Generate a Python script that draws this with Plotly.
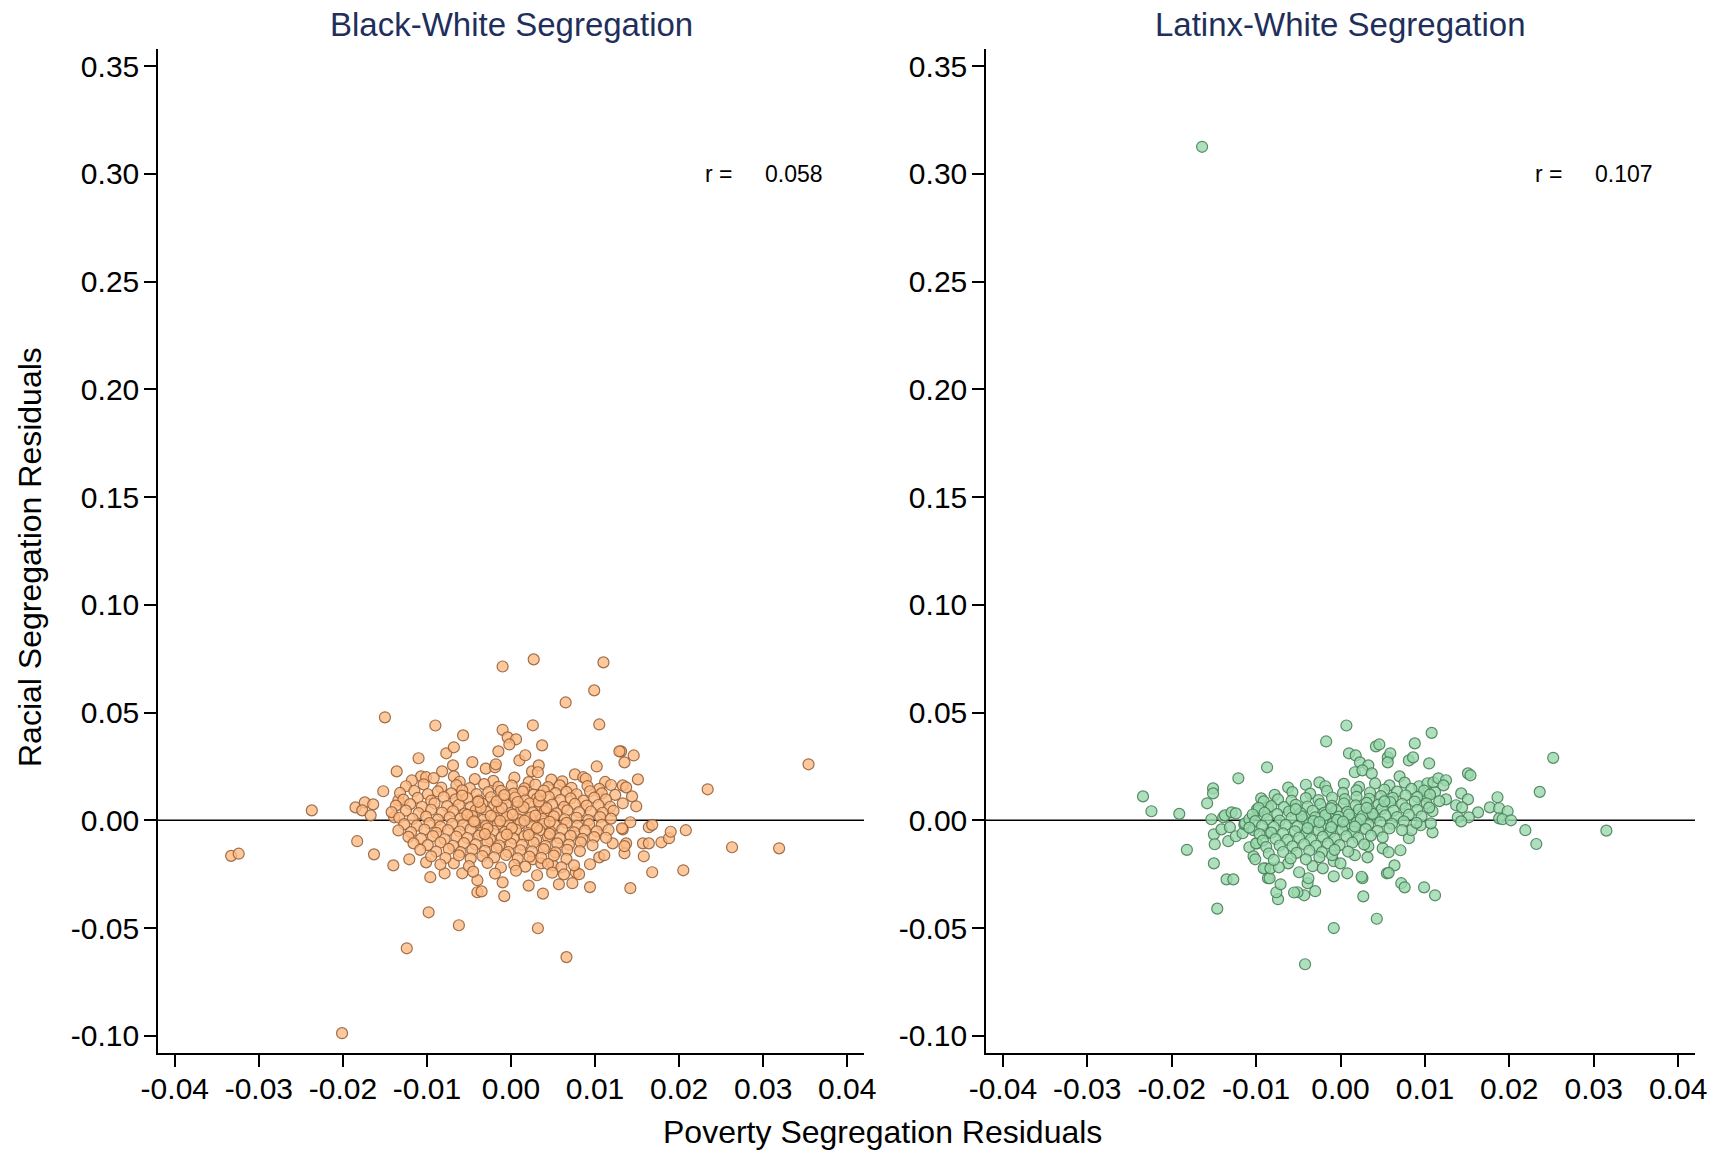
import plotly.graph_objects as go

# ---------------- data ----------------
panel_titles = ["Black-White Segregation", "Latinx-White Segregation"]
r_values = ["0.058", "0.107"]
x_tick_vals = [-0.04, -0.03, -0.02, -0.01, 0.00, 0.01, 0.02, 0.03, 0.04]
x_tick_text = ["-0.04", "-0.03", "-0.02", "-0.01", "0.00", "0.01", "0.02", "0.03", "0.04"]
y_tick_vals = [-0.10, -0.05, 0.00, 0.05, 0.10, 0.15, 0.20, 0.25, 0.30, 0.35]
y_tick_text = ["-0.10", "-0.05", "0.00", "0.05", "0.10", "0.15", "0.20", "0.25", "0.30", "0.35"]

# Black-White panel: (poverty residual, racial residual)
bw_points = [
    (-0.0333,-0.0165),(-0.0324,-0.0155),(-0.0237,0.0046),(-0.0201,-0.0988),(-0.0150,0.0478),(-0.0183,-0.0097),
    (-0.0124,-0.0594),(-0.0098,-0.0427),(-0.0062,-0.0487),(0.0032,-0.0501),(0.0066,-0.0635),(-0.0008,-0.0352),
    (0.0021,-0.0303),(0.0038,-0.0340),(0.0057,-0.0297),(0.0073,-0.0292),(0.0094,-0.0310),(0.0142,-0.0315),
    (-0.0040,-0.0334),(-0.0035,-0.0330),
    (-0.0010,0.0714),(0.0027,0.0747),(0.0110,0.0733),(0.0099,0.0603),(0.0065,0.0547),(-0.0010,0.0420),
    (0.0026,0.0441),(0.0105,0.0445),(-0.0004,0.0385),(0.0006,0.0376),(-0.0002,0.0352),
    (0.0354,0.0260),(0.0234,0.0144),(0.0263,-0.0125),(0.0319,-0.0130),(0.0208,-0.0046),(0.0205,-0.0232),
    (0.0168,-0.0241),(0.0179,-0.0102),(0.0188,-0.0083),(0.0190,-0.0053),(0.0164,-0.0032),(0.0168,-0.0021),
    (0.0157,-0.0107),(0.0164,-0.0107),(0.0158,-0.0167),(0.0146,0.0301),(0.0151,0.0190),(0.0144,0.0111),
    (0.0149,0.0065),(0.0133,0.0162),(0.0137,0.0153),(0.0133,0.0079),(0.0142,-0.0009),(0.0133,-0.0042),
    (0.0137,-0.0107),(0.0135,-0.0153),(0.0135,0.0269),(0.0131,0.0320),
    (-0.0090,0.0440),(-0.0057,0.0394),(0.0037,0.0348),(-0.0015,0.0320),(-0.0077,0.0311),(-0.0068,0.0339),
    (-0.0110,0.0288),(-0.0046,0.0270),(-0.0069,0.0255),(-0.0082,0.0227),(-0.0136,0.0227),(-0.0107,0.0204),
    (-0.0101,0.0200),(-0.0068,0.0204),(-0.0030,0.0240),(-0.0019,0.0246),(-0.0018,0.0260),(0.0010,0.0278),
    (0.0017,0.0302),(0.0025,0.0227),(0.0033,0.0255),(0.0032,0.0223),(0.0076,0.0213),(0.0086,0.0200),
    (0.0102,0.0250),(0.0129,0.0320),
    (-0.0152,0.0135),(-0.0134,0.0093),(-0.0185,0.0060),(-0.0174,0.0083),(-0.0177,0.0046),(-0.0164,0.0074),
    (-0.0167,0.0023),(-0.0139,0.0014),(-0.0163,-0.0158),(-0.0140,-0.0209),(-0.0101,-0.0195),(-0.0096,-0.0264),
    (-0.0121,-0.0181),(-0.0079,-0.0246),(-0.0068,-0.0200),(-0.0058,-0.0246),(-0.0040,-0.0278),(-0.0010,-0.0288),
    (0.0031,-0.0255),(0.0077,-0.0241),(0.0081,-0.0250),(0.0094,-0.0204),(0.0105,-0.0172),(0.0111,-0.0162),
    (0.0121,-0.0107),(0.0135,-0.0120),(0.0132,-0.0037),(0.0050,-0.0209),(0.0026,-0.0181),(0.0036,-0.0200),
    # dense core
    (-0.0118,0.0185),(-0.0092,0.0196),(-0.0061,0.0179),(-0.0043,0.0191),(-0.0021,0.0183),(0.0004,0.0198),
    (0.0021,0.0177),(0.0048,0.0189),(0.0061,0.0181),(0.0089,0.0193),(0.0112,0.0178),
    (-0.0125,0.0158),(-0.0104,0.0167),(-0.0083,0.0152),(-0.0065,0.0163),(-0.0049,0.0149),(-0.0032,0.0168),
    (-0.0015,0.0155),(0.0001,0.0161),(0.0016,0.0148),(0.0029,0.0166),(0.0044,0.0154),(0.0058,0.0162),
    (0.0072,0.0151),(0.0091,0.0159),(0.0105,0.0146),(0.0119,0.0164),
    (-0.0132,0.0127),(-0.0115,0.0136),(-0.0099,0.0121),(-0.0087,0.0134),(-0.0071,0.0125),(-0.0058,0.0139),
    (-0.0041,0.0122),(-0.0027,0.0131),(-0.0012,0.0137),(0.0003,0.0124),(0.0014,0.0133),(0.0027,0.0119),
    (0.0039,0.0138),(0.0053,0.0126),(0.0066,0.0132),(0.0078,0.0121),(0.0094,0.0135),(0.0108,0.0125),(0.0124,0.0118),
    (-0.0128,0.0096),(-0.0111,0.0104),(-0.0095,0.0091),(-0.0080,0.0108),(-0.0066,0.0097),(-0.0052,0.0103),
    (-0.0038,0.0092),(-0.0024,0.0107),(-0.0009,0.0099),(0.0005,0.0106),(0.0017,0.0093),(0.0031,0.0101),
    (0.0045,0.0109),(0.0059,0.0095),(0.0071,0.0102),(0.0086,0.0091),(0.0099,0.0105),(0.0113,0.0097),
    (-0.0137,0.0068),(-0.0120,0.0075),(-0.0106,0.0063),(-0.0091,0.0079),(-0.0076,0.0066),(-0.0062,0.0072),
    (-0.0048,0.0061),(-0.0034,0.0077),(-0.0020,0.0069),(-0.0006,0.0074),(0.0008,0.0064),(0.0022,0.0078),
    (0.0035,0.0067),(0.0049,0.0073),(0.0063,0.0062),(0.0076,0.0076),(0.0090,0.0068),(0.0104,0.0071),(0.0118,0.0063),
    (-0.0142,0.0038),(-0.0125,0.0045),(-0.0110,0.0033),(-0.0095,0.0049),(-0.0082,0.0036),(-0.0069,0.0043),
    (-0.0055,0.0031),(-0.0042,0.0047),(-0.0029,0.0039),(-0.0015,0.0044),(-0.0001,0.0034),(0.0012,0.0048),
    (0.0026,0.0037),(0.0040,0.0042),(0.0054,0.0032),(0.0067,0.0046),(0.0081,0.0038),(0.0095,0.0041),
    (0.0109,0.0035),(0.0122,0.0044),
    (-0.0133,0.0012),(-0.0117,0.0006),(-0.0101,0.0017),(-0.0087,0.0003),(-0.0073,0.0014),(-0.0060,0.0008),
    (-0.0046,0.0019),(-0.0033,0.0002),(-0.0019,0.0011),(-0.0005,0.0016),(0.0009,0.0004),(0.0023,0.0013),
    (0.0037,0.0007),(0.0051,0.0018),(0.0064,0.0005),(0.0078,0.0012),(0.0092,0.0001),(0.0106,0.0015),(0.0119,0.0008),
    (-0.0127,-0.0018),(-0.0112,-0.0025),(-0.0097,-0.0013),(-0.0084,-0.0029),(-0.0070,-0.0016),(-0.0057,-0.0022),
    (-0.0043,-0.0011),(-0.0030,-0.0027),(-0.0016,-0.0019),(-0.0002,-0.0024),(0.0011,-0.0014),(0.0025,-0.0028),
    (0.0039,-0.0017),(0.0052,-0.0023),(0.0066,-0.0012),(0.0079,-0.0026),(0.0093,-0.0018),(0.0108,-0.0021),
    (-0.0134,-0.0047),(-0.0119,-0.0055),(-0.0103,-0.0043),(-0.0089,-0.0058),(-0.0075,-0.0046),(-0.0061,-0.0052),
    (-0.0048,-0.0041),(-0.0035,-0.0057),(-0.0021,-0.0049),(-0.0007,-0.0054),(0.0006,-0.0044),(0.0020,-0.0059),
    (0.0034,-0.0047),(0.0047,-0.0053),(0.0061,-0.0042),(0.0075,-0.0056),(0.0088,-0.0048),(0.0102,-0.0051),(0.0116,-0.0045),
    (-0.0122,-0.0077),(-0.0107,-0.0085),(-0.0093,-0.0073),(-0.0079,-0.0088),(-0.0065,-0.0076),(-0.0052,-0.0082),
    (-0.0038,-0.0071),(-0.0025,-0.0087),(-0.0011,-0.0079),(0.0003,-0.0084),(0.0016,-0.0074),(0.0030,-0.0089),
    (0.0044,-0.0077),(0.0058,-0.0083),(0.0071,-0.0072),(0.0085,-0.0086),(0.0099,-0.0078),(0.0113,-0.0081),
    (-0.0116,-0.0107),(-0.0099,-0.0115),(-0.0084,-0.0103),(-0.0069,-0.0118),(-0.0056,-0.0106),(-0.0042,-0.0112),
    (-0.0028,-0.0101),(-0.0014,-0.0117),(0.0000,-0.0109),(0.0013,-0.0114),(0.0027,-0.0104),(0.0041,-0.0119),
    (0.0055,-0.0107),(0.0069,-0.0113),(0.0083,-0.0102),(0.0097,-0.0116),
    (-0.0108,-0.0137),(-0.0089,-0.0145),(-0.0074,-0.0133),(-0.0060,-0.0148),(-0.0046,-0.0136),(-0.0031,-0.0142),
    (-0.0017,-0.0131),(-0.0003,-0.0147),(0.0011,-0.0139),(0.0025,-0.0144),(0.0039,-0.0134),(0.0053,-0.0149),
    (0.0067,-0.0137),(0.0082,-0.0143),
    (-0.0095,-0.0167),(-0.0078,-0.0175),(-0.0062,-0.0163),(-0.0048,-0.0178),(-0.0034,-0.0166),(-0.0020,-0.0172),
    (-0.0006,-0.0161),(0.0008,-0.0177),(0.0022,-0.0169),(0.0036,-0.0174),(0.0051,-0.0164),(0.0066,-0.0179),
    (-0.0084,-0.0205),(-0.0050,-0.0213),(-0.0028,-0.0198),(-0.0012,-0.0219),(0.0004,-0.0207),(0.0017,-0.0215),
    (0.0044,-0.0203),(0.0060,-0.0218),(0.0075,-0.0209),
    (-0.0045,-0.0238),(-0.0019,-0.0247),(0.0006,-0.0234),(0.0049,-0.0243),(0.0063,-0.0251),
    (-0.0052,0.0025),(-0.0036,0.0058),(-0.0024,0.0021),(-0.0011,0.0057),(0.0002,0.0026),(0.0015,0.0061),
    (0.0029,0.0022),(0.0042,0.0057),(-0.0044,-0.0005),(-0.0028,-0.0038),(-0.0013,-0.0003),(0.0001,-0.0036),
    (0.0016,-0.0002),(0.0031,-0.0035),(0.0046,-0.0007),(-0.0039,0.0086),(-0.0017,0.0088),(0.0008,0.0085),
    (0.0033,0.0087),(-0.0031,-0.0064),(-0.0005,-0.0066),(0.0021,-0.0068),(0.0046,-0.0063),(-0.0058,0.0115),
    (0.0035,0.0115),(-0.0008,0.0117),
]

# Latinx-White panel: (poverty residual, racial residual)
lw_points = [
    (-0.0164,0.3126),(0.0315,-0.0048),(0.0252,0.0290),(-0.0042,-0.0668),(-0.0008,-0.0500),(0.0043,-0.0457),
    (0.0007,0.0440),(0.0108,0.0406),(0.0236,0.0132),(0.0232,-0.0110),(0.0219,-0.0046),
    (-0.0234,0.0111),(-0.0224,0.0042),(-0.0191,0.0030),(-0.0182,-0.0137),(-0.0158,0.0079),(-0.0151,0.0148),
    (-0.0151,0.0125),(-0.0121,0.0195),(-0.0153,0.0005),(-0.0150,-0.0065),(-0.0149,-0.0111),(-0.0150,-0.0200),
    (-0.0146,-0.0410),(-0.0135,-0.0274),(-0.0127,-0.0274),(-0.0139,0.0014),(-0.0137,0.0023),(-0.0129,0.0037),
    (-0.0124,0.0032),(-0.0141,-0.0042),(-0.0131,-0.0032),(-0.0133,-0.0097),(-0.0124,-0.0074),(-0.0116,-0.0060),
    (-0.0114,-0.0019),(-0.0113,-0.0014),(-0.0108,0.0005),(-0.0103,-0.0046),(-0.0099,-0.0107),(-0.0108,-0.0125),
    (-0.0103,-0.0167),(-0.0101,-0.0181),(-0.0089,-0.0223),(-0.0086,-0.0269),(-0.0094,0.0102),(-0.0087,0.0246),
    (-0.0099,0.0051),(-0.0097,0.0046),(-0.0086,0.0060),(-0.0087,-0.0060),
    (-0.0017,0.0366),(0.0042,0.0343),(0.0046,0.0352),(0.0088,0.0357),(0.0010,0.0311),(0.0018,0.0301),
    (0.0056,0.0292),(0.0059,0.0311),(0.0056,0.0269),(0.0081,0.0278),(0.0086,0.0292),(0.0105,0.0264),
    (0.0023,0.0269),(0.0033,0.0255),(0.0151,0.0218),(0.0154,0.0209),(-0.0025,0.0176),(0.0070,0.0204),
    (0.0017,0.0223),(0.0026,0.0232),(0.0037,0.0218),(0.0093,0.0158),(0.0103,0.0172),(0.0110,0.0176),
    (0.0116,0.0195),(0.0125,0.0186),(0.0122,0.0162),(0.0112,0.0130),(0.0102,0.0111),(0.0125,0.0097),
    (0.0143,0.0125),(0.0151,0.0097),(0.0137,0.0070),(0.0144,0.0060),(0.0163,0.0037),(0.0152,0.0014),
    (0.0139,0.0014),(0.0143,-0.0005),(0.0186,0.0107),(0.0177,0.0060),(0.0188,0.0056),(0.0198,0.0042),
    (0.0188,0.0009),(0.0192,0.0005),(0.0202,0.0000),(0.0109,-0.0056),(0.0109,0.0042),(0.0099,-0.0311),
    (0.0112,-0.0348),(0.0072,-0.0292),(0.0076,-0.0311),(0.0064,-0.0209),(0.0055,-0.0246),(0.0057,-0.0244),
    (0.0027,-0.0353),(0.0026,-0.0269),(0.0025,-0.0262),(0.0008,-0.0246),(-0.0008,-0.0260),(-0.0030,-0.0329),
    (-0.0043,-0.0348),(-0.0051,-0.0334),(-0.0055,-0.0335),(-0.0039,-0.0292),(-0.0038,-0.0269),(-0.0074,-0.0366),
    (-0.0076,-0.0334),(-0.0071,-0.0297),(-0.0084,-0.0269),(-0.0091,-0.0223),(-0.0083,-0.0223),(-0.0049,-0.0241),
    (-0.0062,-0.0200),(-0.0073,-0.0218),(-0.0033,-0.0213),(-0.0021,-0.0223),(-0.0008,-0.0190),(0.0000,-0.0200),
    (-0.0010,-0.0162),(0.0017,-0.0162),(0.0032,-0.0172),(0.0033,-0.0121),(0.0050,-0.0130),(0.0057,-0.0148),
    (0.0071,-0.0139),(0.0081,-0.0083),(0.0084,-0.0046),(0.0095,-0.0023),(0.0107,-0.0014),(-0.0100,-0.0107),
    # dense core
    (-0.0062,0.0152),(-0.0041,0.0165),(-0.0018,0.0158),(0.0004,0.0169),(0.0022,0.0155),(0.0041,0.0171),
    (0.0058,0.0162),(0.0076,0.0175),
    (-0.0078,0.0118),(-0.0057,0.0131),(-0.0036,0.0124),(-0.0016,0.0136),(0.0003,0.0127),(0.0019,0.0139),
    (0.0035,0.0129),(0.0052,0.0142),(0.0067,0.0133),(0.0084,0.0146),(0.0099,0.0138),
    (-0.0091,0.0088),(-0.0074,0.0097),(-0.0058,0.0091),(-0.0041,0.0103),(-0.0026,0.0094),(-0.0010,0.0106),
    (0.0005,0.0098),(0.0019,0.0109),(0.0034,0.0100),(0.0048,0.0112),(0.0062,0.0104),(0.0077,0.0116),
    (0.0091,0.0108),(0.0106,0.0119),
    (-0.0097,0.0058),(-0.0082,0.0066),(-0.0067,0.0061),(-0.0053,0.0072),(-0.0039,0.0064),(-0.0024,0.0075),
    (-0.0010,0.0067),(0.0004,0.0078),(0.0018,0.0069),(0.0031,0.0081),(0.0045,0.0073),(0.0059,0.0084),
    (0.0073,0.0076),(0.0088,0.0087),(0.0102,0.0079),(0.0117,0.0089),
    (-0.0104,0.0027),(-0.0090,0.0035),(-0.0075,0.0029),(-0.0061,0.0041),(-0.0047,0.0033),(-0.0033,0.0044),
    (-0.0019,0.0036),(-0.0005,0.0047),(0.0008,0.0039),(0.0022,0.0050),(0.0036,0.0042),(0.0049,0.0053),
    (0.0063,0.0045),(0.0077,0.0056),(0.0091,0.0048),(0.0105,0.0059),
    (-0.0101,-0.0004),(-0.0087,0.0005),(-0.0072,-0.0001),(-0.0058,0.0011),(-0.0044,0.0003),(-0.0030,0.0014),
    (-0.0016,0.0006),(-0.0002,0.0017),(0.0012,0.0009),(0.0026,0.0020),(0.0040,0.0012),(0.0053,0.0023),
    (0.0067,0.0015),(0.0081,0.0026),(0.0096,0.0018),
    (-0.0108,-0.0034),(-0.0093,-0.0026),(-0.0079,-0.0031),(-0.0065,-0.0021),(-0.0051,-0.0028),(-0.0037,-0.0017),
    (-0.0023,-0.0025),(-0.0009,-0.0014),(0.0005,-0.0022),(0.0019,-0.0011),(0.0033,-0.0019),(0.0047,-0.0008),
    (0.0061,-0.0016),(0.0075,-0.0005),(0.0090,-0.0012),
    (-0.0096,-0.0064),(-0.0082,-0.0057),(-0.0068,-0.0061),(-0.0054,-0.0051),(-0.0040,-0.0058),(-0.0026,-0.0047),
    (-0.0012,-0.0055),(0.0002,-0.0044),(0.0016,-0.0052),(0.0030,-0.0041),(0.0044,-0.0049),(0.0058,-0.0038),
    (0.0073,-0.0046),
    (-0.0092,-0.0094),(-0.0077,-0.0087),(-0.0063,-0.0091),(-0.0049,-0.0081),(-0.0035,-0.0088),(-0.0021,-0.0077),
    (-0.0007,-0.0085),(0.0007,-0.0074),(0.0021,-0.0082),(0.0036,-0.0071),(0.0050,-0.0079),
    (-0.0088,-0.0124),(-0.0072,-0.0117),(-0.0057,-0.0121),(-0.0043,-0.0111),(-0.0029,-0.0118),(-0.0015,-0.0107),
    (-0.0001,-0.0115),(0.0014,-0.0104),(0.0028,-0.0112),
    (-0.0085,-0.0154),(-0.0068,-0.0147),(-0.0052,-0.0151),(-0.0037,-0.0141),(-0.0022,-0.0148),(-0.0007,-0.0137),
    (0.0009,-0.0145),
    (-0.0079,-0.0184),(-0.0059,-0.0177),(-0.0041,-0.0181),(-0.0025,-0.0171),
    (-0.0046,0.0018),(-0.0032,-0.0004),(-0.0018,0.0024),(-0.0004,0.0002),(0.0010,0.0027),(0.0024,0.0005),
    (0.0038,0.0030),(-0.0039,-0.0036),(-0.0025,-0.0008),(-0.0011,-0.0032),(0.0003,-0.0006),(0.0017,-0.0029),
    (0.0031,0.0058),(-0.0011,0.0055),(-0.0053,0.0052),(0.0052,0.0088),
]

# ---------------- figure ----------------
FONT = "Liberation Sans, Arial, Helvetica, sans-serif"
W, H = 1720, 1152

fig = go.Figure()

series = [
    (bw_points, "x", "y", "rgba(254,186,132,0.8)", "rgba(150,96,56,0.9)"),
    (lw_points, "x2", "y2", "rgba(154,216,172,0.8)", "rgba(72,128,88,0.9)"),
]
for pts, xa, ya, fill, edge in series:
    fig.add_trace(go.Scatter(
        x=[p[0] for p in pts], y=[p[1] for p in pts],
        xaxis=xa, yaxis=ya, mode="markers", showlegend=False,
        marker=dict(size=11, color=fill, line=dict(color=edge, width=1.2)),
        hoverinfo="skip",
    ))

ydom = [1 - 1053 / H, 1 - 49 / H]
xdoms = [[158 / W, 864 / W], [986 / W, 1695 / W]]

axis_common = dict(
    showgrid=False, zeroline=False, showline=True, linecolor="black", linewidth=1.5,
    ticks="outside", ticklen=12, tickwidth=1.5, tickcolor="black", automargin=False,
    tickfont=dict(family=FONT, size=30, color="black"), mirror=False,
)

layout = dict(
    width=W, height=H, margin=dict(l=0, r=0, t=0, b=0, autoexpand=False),
    paper_bgcolor="white", plot_bgcolor="white",
    font=dict(family=FONT, color="black"),
)
for i, suffix in enumerate(["", "2"]):
    layout["xaxis" + suffix] = dict(
        axis_common, domain=xdoms[i], range=[-0.042, 0.042], anchor="y" + suffix,
        tickmode="array", tickvals=x_tick_vals, ticktext=x_tick_text, ticklabelstandoff=-4,
    )
    layout["yaxis" + suffix] = dict(
        axis_common, domain=ydom, range=[-0.108, 0.358], anchor="x" + suffix,
        tickmode="array", tickvals=y_tick_vals, ticktext=y_tick_text, ticklabelstandoff=-1,
    )
fig.update_layout(**layout)

shapes = []
annotations = []
for i, suffix in enumerate(["", "2"]):
    xr = "x" + suffix
    yr = "y" + suffix
    shapes.append(dict(type="line", xref=xr + " domain", yref=yr, x0=0, x1=1, y0=0, y1=0,
                       line=dict(color="black", width=1.5), layer="below"))
    annotations.append(dict(text=panel_titles[i], xref=xr, yref="paper", x=0.0, y=1 - 24 / H,
                            showarrow=False, xanchor="center", yanchor="middle",
                            font=dict(family=FONT, size=33, color="#1f2f5c")))
    annotations.append(dict(text="r =", xref=xr, yref=yr, x=0.0228, y=0.30,
                            showarrow=False, xanchor="left", yanchor="middle",
                            font=dict(family=FONT, size=23, color="black")))
    annotations.append(dict(text=r_values[i], xref=xr, yref=yr, x=0.0373, y=0.30,
                            showarrow=False, xanchor="right", yanchor="middle",
                            font=dict(family=FONT, size=23, color="black")))

annotations.append(dict(text="Racial Segregation Residuals", xref="paper", yref="paper",
                        x=30 / W, y=1 - 557 / H, textangle=-90, showarrow=False,
                        xanchor="center", yanchor="middle",
                        font=dict(family=FONT, size=32, color="black")))
annotations.append(dict(text="Poverty Segregation Residuals", xref="paper", yref="paper",
                        x=882 / W, y=1 - 1132 / H, showarrow=False,
                        xanchor="center", yanchor="middle",
                        font=dict(family=FONT, size=32, color="black")))

fig.update_layout(shapes=shapes, annotations=annotations)
fig.write_html("out.html")
